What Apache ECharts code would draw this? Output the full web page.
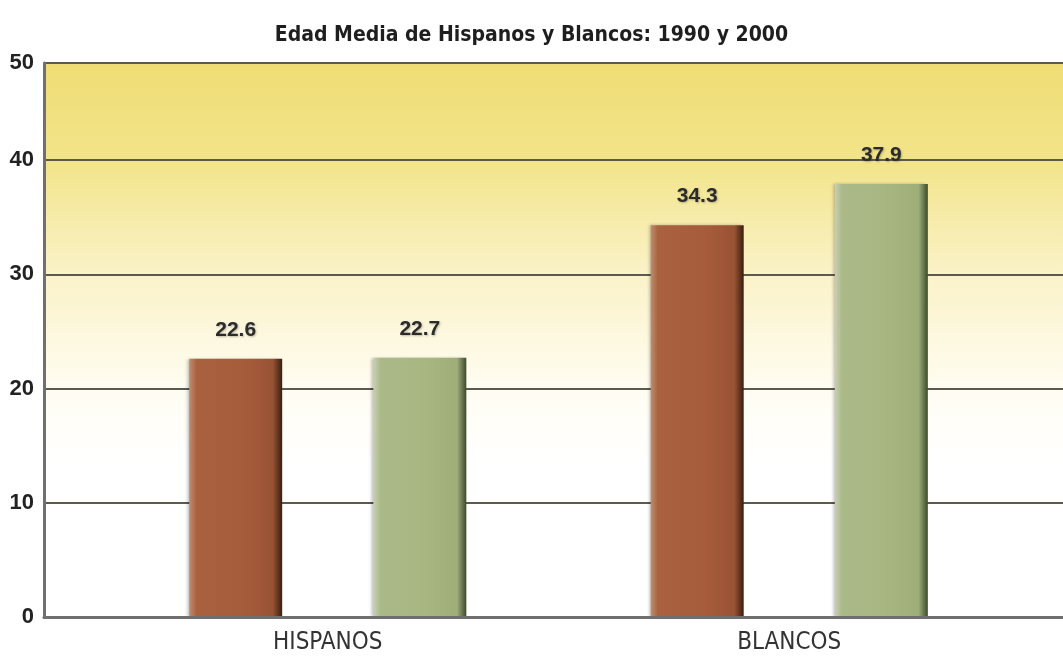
<!DOCTYPE html>
<html>
<head>
<meta charset="utf-8">
<script src="https://cdn.jsdelivr.net/npm/echarts@6/dist/echarts.min.js"></script>
<style>
  html, body { margin: 0; padding: 0; background: #fff; }
  #chart { width: 1063px; height: 659px; }
</style>
</head>
<body>
<div id="chart"></div>
<script>
// Data
var categories = ['HISPANOS', 'BLANCOS'];
var values1990 = [22.6, 34.3];
var values2000 = [22.7, 37.9];
var yTickLabels = ['0', '10', '20', '30', '40', '50'];
var yTop = 48.5; // top gridline of the picture (labelled 50)

var chart = echarts.init(document.getElementById('chart'));

function barGradient(stops) {
  return new echarts.graphic.LinearGradient(0, 0, 1, 0, stops);
}

var brown = barGradient([
  { offset: 0, color: '#bd8e70' },
  { offset: 0.08, color: '#a9613f' },
  { offset: 0.6, color: '#a65c3b' },
  { offset: 0.9, color: '#985334' },
  { offset: 1, color: '#3a1d10' }
]);
var green = barGradient([
  { offset: 0, color: '#c9cfb5' },
  { offset: 0.08, color: '#aab987' },
  { offset: 0.6, color: '#a7b681' },
  { offset: 0.9, color: '#9fae79' },
  { offset: 1, color: '#3c4a2b' }
]);

var labelStyle = {
  show: true,
  position: 'top',
  distance: 18,
  fontFamily: 'Liberation Sans, Arial, sans-serif',
  fontWeight: 'bold',
  fontSize: 21,
  color: '#2b2b2b',
  textShadowColor: 'rgba(0,0,0,0.25)',
  textShadowBlur: 2,
  textShadowOffsetX: 1,
  textShadowOffsetY: 1
};

var option = {
  animation: false,
  backgroundColor: '#ffffff',
  title: {
    text: 'Edad Media de Hispanos y Blancos: 1990 y 2000',
    left: 'center',
    top: 20,
    textStyle: {
      fontFamily: 'DejaVu Sans Condensed, Liberation Sans Narrow, sans-serif',
      fontWeight: 'bold',
      fontSize: 21,
      color: '#1e1e1e'
    }
  },
  grid: [
    {
      // frame: y axis, gridlines and yellow background
      left: 44, right: 0, top: 63, bottom: 42,
      show: true,
      borderWidth: 0,
      backgroundColor: new echarts.graphic.LinearGradient(0, 0, 0, 1, [
        { offset: 0, color: '#efdd74' },
        { offset: 0.175, color: '#f2e489' },
        { offset: 0.38, color: '#faf2c8' },
        { offset: 0.59, color: '#fffdf2' },
        { offset: 0.72, color: '#ffffff' },
        { offset: 1, color: '#ffffff' }
      ])
    },
    {
      // bars
      left: 97, right: 43, top: 63, bottom: 42
    }
  ],
  xAxis: [
    {
      gridIndex: 0,
      type: 'category',
      data: [''],
      axisLine: { show: true, lineStyle: { color: '#6f6f6f', width: 3 } },
      axisTick: { show: false },
      axisLabel: { show: false },
      z: 5
    },
    {
      gridIndex: 1,
      type: 'category',
      data: categories,
      axisLine: { show: false },
      axisTick: { show: false },
      axisLabel: {
        margin: 14,
        fontFamily: 'Liberation Sans Narrow, DejaVu Sans Condensed, sans-serif',
        fontSize: 24,
        color: '#333333'
      }
    }
  ],
  yAxis: [
    {
      gridIndex: 0,
      type: 'value',
      min: 0,
      max: yTop,
      interval: 10,
      axisLine: { show: true, lineStyle: { color: '#707070', width: 3 } },
      axisTick: { show: false },
      splitLine: { show: true, lineStyle: { color: '#5c5a4c', width: 2 } },
      axisLabel: {
        margin: 10,
        fontFamily: 'Liberation Sans, Arial, sans-serif',
        fontWeight: 'bold',
        fontSize: 22,
        color: '#222222',
        formatter: function (value, index) {
          return yTickLabels[index];
        }
      }
    },
    {
      gridIndex: 1,
      type: 'value',
      min: 0,
      max: yTop,
      show: false
    }
  ],
  series: [
    {
      name: '1990',
      type: 'bar',
      xAxisIndex: 1,
      yAxisIndex: 1,
      data: values1990,
      barWidth: 93,
      barGap: '98%',
      itemStyle: {
        color: brown,
        shadowColor: 'rgba(0,0,0,0.25)',
        shadowBlur: 3,
        shadowOffsetX: -2
      },
      label: labelStyle,
      z: 3
    },
    {
      name: '2000',
      type: 'bar',
      xAxisIndex: 1,
      yAxisIndex: 1,
      data: values2000,
      barWidth: 93,
      itemStyle: {
        color: green,
        shadowColor: 'rgba(0,0,0,0.25)',
        shadowBlur: 3,
        shadowOffsetX: -2
      },
      label: labelStyle,
      z: 3
    }
  ]
};

chart.setOption(option);
</script>
</body>
</html>
